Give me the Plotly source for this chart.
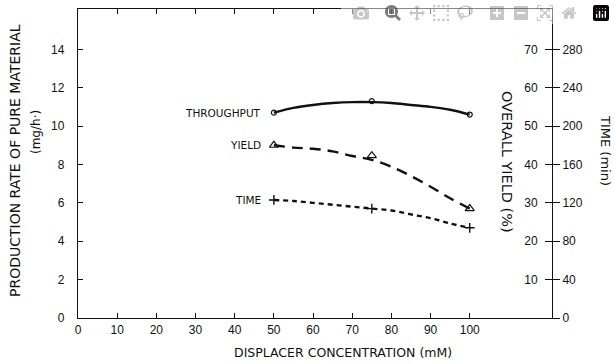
import plotly.graph_objects as go

# Data
conc_pts = [50, 75, 100]
throughput_pts = [10.7, 11.3, 10.6]      # mg/h (left axis)
yield_pts = [45, 42.3, 28.5]             # % (overall yield)
time_pts = [123, 114, 94]                # min

# smooth hand-drawn curves
conc_curve = [50, 55, 60, 65, 70, 75, 80, 85, 90, 95, 100]
throughput_curve = [10.7, 10.95, 11.1, 11.2, 11.25, 11.25, 11.2, 11.1, 11.0, 10.85, 10.6]
yield_curve = [45, 44.4, 44.1, 43.4, 42.2, 41.2, 39.4, 37, 34.2, 31.2, 28.5]
time_curve = [123, 122, 120, 118, 116, 114, 112, 108, 104, 98.5, 94]

x_ticks = [0, 10, 20, 30, 40, 50, 60, 70, 80, 90, 100]
left_ticks = [0, 2, 4, 6, 8, 10, 12, 14]
yield_ticks = [10, 20, 30, 40, 50, 60, 70]
time_ticks = [0, 40, 80, 120, 160, 200, 240, 280]

FONT = "Liberation Sans"
TFONT = "DejaVu Sans"
INK = "#111111"

fig = go.Figure()

fig.add_trace(go.Scatter(x=conc_curve, y=throughput_curve, mode="lines", line_shape="spline",
                         line=dict(color=INK, width=2.4), yaxis="y", showlegend=False, hoverinfo="skip"))
fig.add_trace(go.Scatter(x=conc_pts, y=throughput_pts, mode="markers",
                         marker=dict(symbol="circle-open", size=5, color=INK, line=dict(width=1.2)),
                         yaxis="y", showlegend=False))

fig.add_trace(go.Scatter(x=conc_curve, y=yield_curve, mode="lines", line_shape="spline",
                         line=dict(color=INK, width=2.4, dash="11px,7px"), yaxis="y2", showlegend=False, hoverinfo="skip"))
fig.add_trace(go.Scatter(x=conc_pts, y=yield_pts, mode="markers",
                         marker=dict(symbol="triangle-up-open", size=8, color=INK, line=dict(width=1.2)),
                         yaxis="y2", showlegend=False))

fig.add_trace(go.Scatter(x=conc_curve, y=time_curve, mode="lines", line_shape="spline",
                         line=dict(color=INK, width=2.4, dash="5px,4px"), yaxis="y3", showlegend=False, hoverinfo="skip"))
fig.add_trace(go.Scatter(x=conc_pts, y=time_pts, mode="markers",
                         marker=dict(symbol="cross-thin-open", size=7, color=INK, line=dict(width=1.4)),
                         yaxis="y3", showlegend=False))

tickfont = dict(family=FONT, size=12, color=INK)
NB = "\u00a0"

fig.update_layout(
    width=615, height=364,
    margin=dict(l=78, r=63, t=9, b=46, autoexpand=False),
    paper_bgcolor="white", plot_bgcolor="white",
    font=dict(family=FONT, color=INK),
    xaxis=dict(range=[0, 121], tickvals=x_ticks, ticktext=[str(v) for v in x_ticks], automargin=False,
               ticks="inside", ticklen=5, tickcolor=INK, showline=True, linecolor=INK, linewidth=1.3,
               mirror="ticks", showgrid=False, zeroline=False, tickfont=tickfont),
    yaxis=dict(range=[0, 16.1], tickvals=left_ticks, ticktext=[str(v) + NB * 3 for v in left_ticks], automargin=False,
               ticks="inside", ticklen=5, tickcolor=INK, showline=True, linecolor=INK, linewidth=1.3,
               showgrid=False, zeroline=False, tickfont=tickfont),
    yaxis2=dict(range=[0, 80.5], tickvals=yield_ticks, ticktext=[str(v) + NB * 2 for v in yield_ticks], automargin=False,
                overlaying="y", side="right", anchor="x", ticks="inside", ticklen=7, tickcolor=INK,
                ticklabelposition="inside", showline=True, linecolor=INK, linewidth=1.3,
                showgrid=False, zeroline=False, tickfont=tickfont),
    yaxis3=dict(range=[0, 322], tickvals=time_ticks, ticktext=[str(v) for v in time_ticks], automargin=False,
                overlaying="y", side="right", anchor="x", ticks="outside", ticklen=7, tickcolor=INK,
                showline=False, showgrid=False, zeroline=False, tickfont=tickfont),
)

ann = []
# axis titles
ann.append(dict(text="DISPLACER CONCENTRATION (mM)", xref="paper", yref="paper", x=(343 - 78) / 474, y=-(352 - 318) / 309,
                xanchor="center", yanchor="middle", showarrow=False, font=dict(family=TFONT, size=12.5, color=INK)))
ann.append(dict(text="PRODUCTION RATE OF PURE MATERIAL", xref="paper", yref="paper", x=(15 - 78) / 474,
                y=(318 - 161) / 309, textangle=-90, xanchor="center", yanchor="middle", showarrow=False,
                font=dict(family=TFONT, size=14, color=INK)))
ann.append(dict(text="(mg/h·)", xref="paper", yref="paper", x=(36 - 78) / 474,
                y=(318 - 132) / 309, textangle=-90, xanchor="center", yanchor="middle", showarrow=False,
                font=dict(family=TFONT, size=12, color=INK)))
ann.append(dict(text="OVERALL YIELD (%)", xref="paper", yref="paper", x=(507 - 78) / 474,
                y=(318 - 162) / 309, textangle=90, xanchor="center", yanchor="middle", showarrow=False,
                font=dict(family=TFONT, size=14.5, color=INK)))
ann.append(dict(text="TIME (min)", xref="paper", yref="paper", x=(606 - 78) / 474,
                y=(318 - 150) / 309, textangle=90, xanchor="center", yanchor="middle", showarrow=False,
                font=dict(family=TFONT, size=13, color=INK)))
# series labels
lab_font = dict(family=TFONT, size=10.5, color=INK)
ann.append(dict(text="THROUGHPUT", x=conc_pts[0], y=throughput_pts[0], xref="x", yref="y",
                xanchor="right", yanchor="middle", xshift=-11, showarrow=False, font=lab_font))
ann.append(dict(text="YIELD", x=conc_pts[0], y=yield_pts[0], xref="x", yref="y2",
                xanchor="right", yanchor="middle", xshift=-11, showarrow=False, font=lab_font))
ann.append(dict(text="TIME", x=conc_pts[0], y=time_pts[0], xref="x", yref="y3",
                xanchor="right", yanchor="middle", xshift=-11, showarrow=False, font=lab_font))
fig.update_layout(annotations=ann)

fig.write_html("out.html",
               post_script="document.body.style.margin='0px';document.body.style.overflow='hidden';")
